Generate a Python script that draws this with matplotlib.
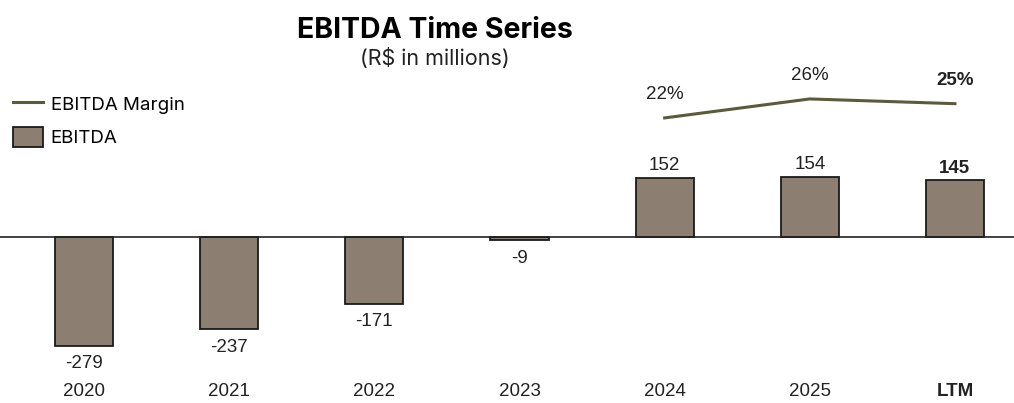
import matplotlib.pyplot as plt
import numpy as np

years = ["2020", "2021", "2022", "2023", "2024", "2025", "LTM"]
ebitda = [-279, -237, -171, -9, 152, 154, 145]
margin_years = ["2024", "2025", "LTM"]
margin = [22, 26, 25]

bar_color = "#8c7f72"
line_color = "#5b5a3c"
lbl_font = "Liberation Sans"

W, H = 1014, 403
fig = plt.figure(figsize=(W / 100, H / 100), dpi=100)

# axes span the whole width; top at y=60px, bottom at y=380px
ax = fig.add_axes([0, 1 - 380 / H, 1, 320 / H])
x = np.arange(len(years))
bars = ax.bar(x, ebitda, width=0.4, color=bar_color, edgecolor="#1a1a1a",
              linewidth=1.3, label="EBITDA", zorder=2)
ax.axhline(0, color="#222222", linewidth=1.2, zorder=3)
ax.set_xlim(-0.579, 6.407)
ax.set_ylim(-367, 454)
for s in ax.spines.values():
    s.set_visible(False)
ax.set_yticks([])
ax.set_xticks(x)
ax.set_xticklabels(years, fontsize=13.5, family=lbl_font, color="#222222")
ax.get_xticklabels()[-1].set_fontweight("bold")
ax.tick_params(axis="x", length=0, pad=2.5)

for i, v in enumerate(ebitda):
    bold = "bold" if years[i] == "LTM" else "normal"
    if v >= 0:
        ax.annotate(str(v), (i, v), xytext=(0, 2.5), textcoords="offset points",
                    ha="center", va="bottom", fontsize=13.5, fontweight=bold,
                    family=lbl_font, color="#222222")
    else:
        ax.annotate(str(v), (i, v), xytext=(0, -7), textcoords="offset points",
                    ha="center", va="top", fontsize=13.5, fontweight=bold,
                    family=lbl_font, color="#222222")

ax2 = ax.twinx()
mx = [years.index(y) for y in margin_years]
ax2.plot(mx, margin, color=line_color, linewidth=2.2, label="EBITDA Margin")
ax2.set_ylim(-33.2, 34.2)
ax2.set_yticks([])
for s in ax2.spines.values():
    s.set_visible(False)
for xi, m, yr in zip(mx, margin, margin_years):
    bold = "bold" if yr == "LTM" else "normal"
    ax2.annotate(f"{m}%", (xi, m), xytext=(0, 10.5), textcoords="offset points",
                 ha="center", va="bottom", fontsize=13.5, fontweight=bold,
                 family=lbl_font, color="#222222")

handles = [ax2.get_lines()[0], bars]
fig.legend(handles, ["EBITDA Margin", "EBITDA"], loc="upper left",
           bbox_to_anchor=(0.0, 0.80), frameon=False,
           prop={"family": "Inter", "size": 13.5}, handlelength=1.6,
           handleheight=1.25, handletextpad=0.4, labelspacing=0.7,
           borderaxespad=0.3)

fig.text(0.429, 0.957, "EBITDA Time Series", ha="center", va="top",
         fontsize=20.5, fontweight="bold", family="Inter")
fig.text(0.429, 0.882, "(R$ in millions)", ha="center", va="top",
         fontsize=15.5, family="Inter", color="#222222")

fig.savefig("out.png", dpi=100)
